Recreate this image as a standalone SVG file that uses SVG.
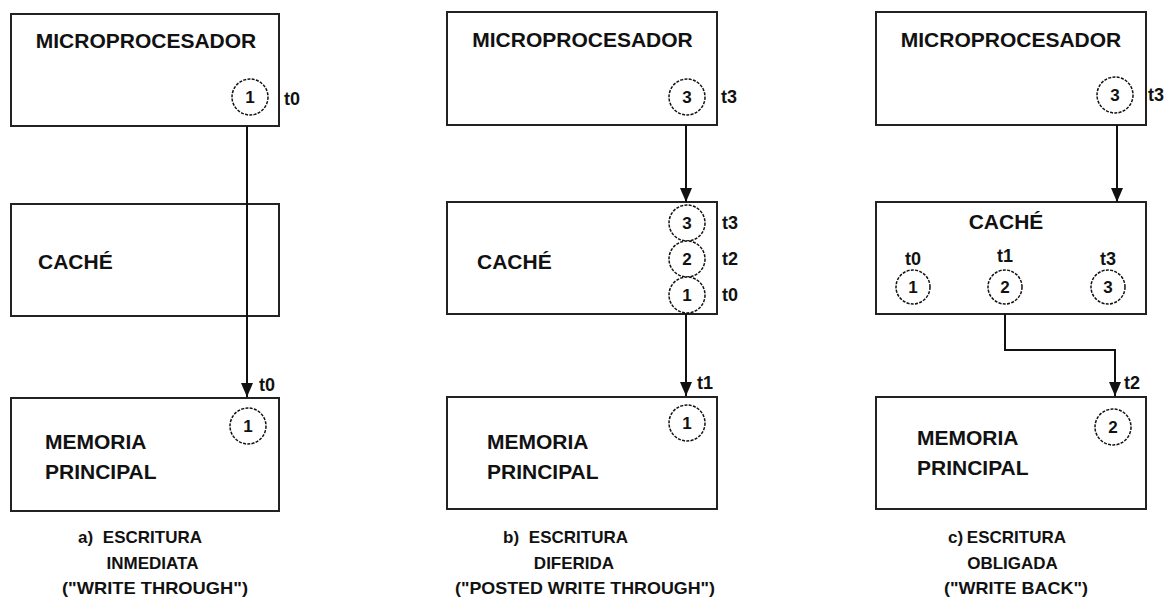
<svg xmlns="http://www.w3.org/2000/svg" width="1173" height="599" viewBox="0 0 1173 599">
<style>
.box{fill:#fff;stroke:#222;stroke-width:2}
.lbl{font-family:"Liberation Sans",Arial,sans-serif;font-weight:bold;font-size:21px;fill:#111}
.cap{font-family:"Liberation Sans",Arial,sans-serif;font-weight:bold;font-size:17px;fill:#111}
.t{font-family:"Liberation Sans",Arial,sans-serif;font-weight:bold;font-size:18px;fill:#111}
.c{fill:#fff;stroke:#111;stroke-width:1.5;stroke-dasharray:3 1.3}
.n{font-family:"Liberation Sans",Arial,sans-serif;font-weight:bold;font-size:17px;fill:#111;text-anchor:middle}
.ln{fill:none;stroke:#111;stroke-width:2}
</style>
<defs>
<marker id="ah" markerUnits="userSpaceOnUse" markerWidth="16" markerHeight="12" refX="14" refY="6" orient="auto">
<path d="M0,0 L14,6 L0,12 Z" fill="#111"/>
</marker>
</defs>

<!-- Diagram a -->
<g id="a-micro">
<rect class="box" x="11" y="14" width="268" height="112"/>
<text class="lbl" x="146" y="48" text-anchor="middle">MICROPROCESADOR</text>
<circle class="c" cx="250" cy="97" r="18"/><text class="n" x="250" y="103">1</text>
<text class="t" x="284" y="105">t0</text>
</g>
<g id="a-cache">
<rect class="box" x="11" y="204" width="268" height="112"/>
<text class="lbl" x="38" y="269">CACHÉ</text>
</g>
<g id="a-mem">
<rect class="box" x="11" y="398" width="268" height="113"/>
<text class="lbl" x="45" y="449">MEMORIA</text>
<text class="lbl" x="45" y="479">PRINCIPAL</text>
<circle class="c" cx="248" cy="426" r="18"/><text class="n" x="248" y="432">1</text>
</g>
<g id="a-caption">
<text class="cap" x="78" y="543">a)</text>
<text class="cap" x="202" y="543" text-anchor="end">ESCRITURA</text>
<text class="cap" x="152.5" y="569" text-anchor="middle">INMEDIATA</text>
<text class="cap" x="62" y="594" textLength="186" lengthAdjust="spacingAndGlyphs">("WRITE THROUGH")</text>
</g>

<!-- Diagram b -->
<g id="b-micro">
<rect class="box" x="447" y="12" width="270" height="113"/>
<text class="lbl" x="582.5" y="47" text-anchor="middle">MICROPROCESADOR</text>
<circle class="c" cx="687" cy="97" r="18"/><text class="n" x="687" y="103">3</text>
<text class="t" x="721" y="103">t3</text>
</g>
<g id="b-cache">
<rect class="box" x="447" y="202" width="270" height="112"/>
<text class="lbl" x="477" y="269">CACHÉ</text>
<circle class="c" cx="687" cy="223" r="18"/><text class="n" x="687" y="229">3</text>
<circle class="c" cx="687" cy="259" r="18"/><text class="n" x="687" y="265">2</text>
<circle class="c" cx="687" cy="295" r="18"/><text class="n" x="687" y="301">1</text>
<text class="t" x="722" y="229">t3</text>
<text class="t" x="722" y="265">t2</text>
<text class="t" x="722" y="301">t0</text>
</g>
<g id="b-mem">
<rect class="box" x="447" y="397" width="270" height="112"/>
<text class="lbl" x="487" y="449">MEMORIA</text>
<text class="lbl" x="487" y="479">PRINCIPAL</text>
<circle class="c" cx="687" cy="423" r="18"/><text class="n" x="687" y="429">1</text>
</g>
<g id="b-caption">
<text class="cap" x="503" y="543">b)</text>
<text class="cap" x="628" y="543" text-anchor="end">ESCRITURA</text>
<text class="cap" x="574" y="569" text-anchor="middle">DIFERIDA</text>
<text class="cap" x="455" y="594" textLength="260" lengthAdjust="spacingAndGlyphs">("POSTED WRITE THROUGH")</text>
</g>

<!-- Diagram c -->
<g id="c-micro">
<rect class="box" x="876" y="12" width="270" height="113"/>
<text class="lbl" x="1011" y="47" text-anchor="middle">MICROPROCESADOR</text>
<circle class="c" cx="1115" cy="95" r="18"/><text class="n" x="1115" y="101">3</text>
<text class="t" x="1148" y="101">t3</text>
</g>
<g id="c-cache">
<rect class="box" x="876" y="202" width="270" height="112"/>
<text class="lbl" x="1006" y="229" text-anchor="middle">CACHÉ</text>
<text class="t" x="913" y="265" text-anchor="middle">t0</text>
<text class="t" x="1005" y="262" text-anchor="middle">t1</text>
<text class="t" x="1108" y="265" text-anchor="middle">t3</text>
<circle class="c" cx="913" cy="287" r="17"/><text class="n" x="913" y="293">1</text>
<circle class="c" cx="1005" cy="287" r="17"/><text class="n" x="1005" y="293">2</text>
<circle class="c" cx="1108" cy="287" r="17"/><text class="n" x="1108" y="293">3</text>
</g>
<g id="c-mem">
<rect class="box" x="876" y="397" width="270" height="112"/>
<text class="lbl" x="917" y="445">MEMORIA</text>
<text class="lbl" x="917" y="475">PRINCIPAL</text>
<circle class="c" cx="1113" cy="427" r="18"/><text class="n" x="1113" y="433">2</text>
</g>
<g id="c-caption">
<text class="cap" x="948" y="543">c)</text>
<text class="cap" x="1066" y="543" text-anchor="end">ESCRITURA</text>
<text class="cap" x="1012.5" y="569" text-anchor="middle">OBLIGADA</text>
<text class="cap" x="944" y="594" textLength="144" lengthAdjust="spacingAndGlyphs">("WRITE BACK")</text>
</g>

<g id="connectors">
<path class="ln" d="M247 126 V397" marker-end="url(#ah)"/>
<text class="t" x="259" y="391">t0</text>
<path class="ln" d="M686 125 V202" marker-end="url(#ah)"/>
<path class="ln" d="M686 314 V396" marker-end="url(#ah)"/>
<text class="t" x="697" y="389">t1</text>
<path class="ln" d="M1117 125 V202" marker-end="url(#ah)"/>
<path class="ln" d="M1005 314 V350 H1115 V396" marker-end="url(#ah)"/>
<text class="t" x="1124" y="389">t2</text>
</g>
</svg>
